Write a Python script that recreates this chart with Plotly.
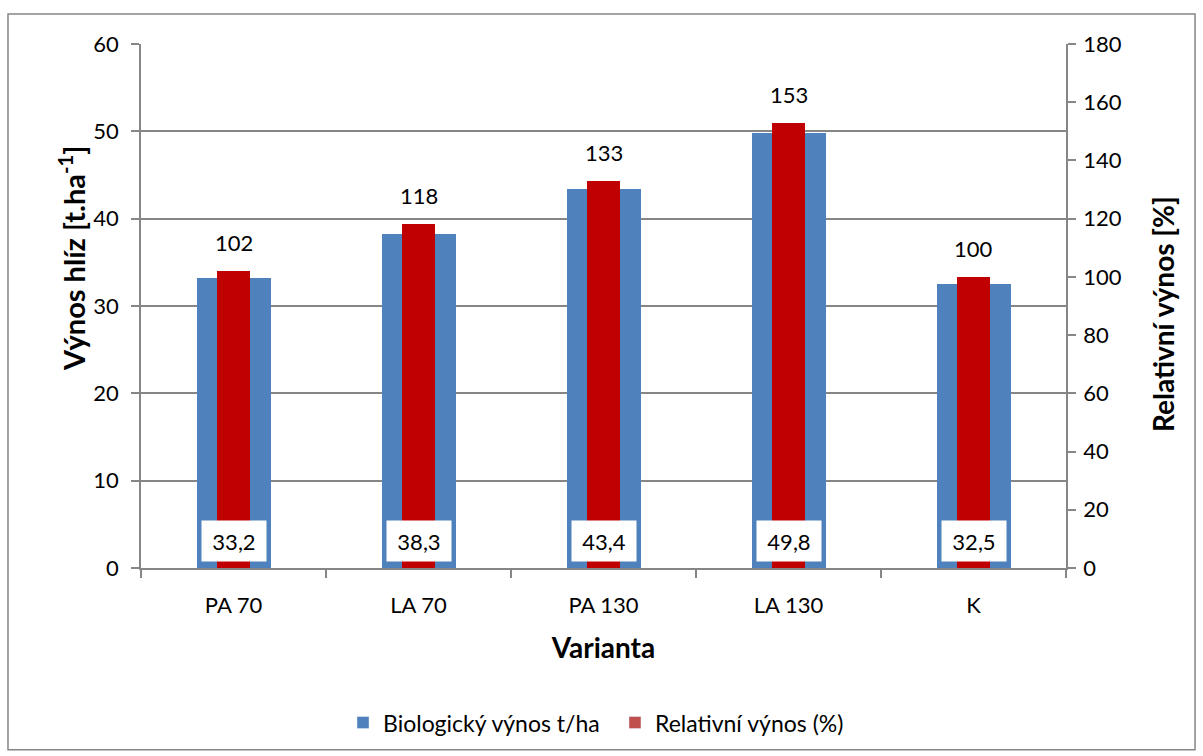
import plotly.graph_objects as go

# Varianty pokusu a výnosy
varianty = ["PA 70", "LA 70", "PA 130", "LA 130", "K"]
biologicky_vynos = [33.2, 38.3, 43.4, 49.8, 32.5]   # t/ha
relativni_vynos = [102, 118, 133, 153, 100]          # % vůči kontrole
left_ticks = [0, 10, 20, 30, 40, 50, 60]
right_ticks = [0, 20, 40, 60, 80, 100, 120, 140, 160, 180]

FONT = "Lato, 'Open Sans', sans-serif"
BLUE = "#4F81BD"
RED = "#C00000"
RED_LEGEND = "#C0504D"
GRID = "#868686"

fig = go.Figure()

fig.add_trace(go.Bar(
    x=varianty, y=biologicky_vynos, name="Biologický výnos t/ha",
    marker=dict(color=BLUE, line=dict(width=0)), width=0.4,
    yaxis="y", showlegend=False,
))
fig.add_trace(go.Bar(
    x=varianty, y=relativni_vynos, name="Relativní výnos (%)",
    marker=dict(color=RED, line=dict(width=0)), width=0.175,
    yaxis="y2", showlegend=False,
))

# legend entries (one legend box each, so their spacing can be set)
fig.add_trace(go.Bar(x=[varianty[0]], y=[None], name="Biologický výnos t/ha",
                     marker_color=BLUE, yaxis="y", legend="legend"))
fig.add_trace(go.Bar(x=[varianty[0]], y=[None], name="Relativní výnos (%)",
                     marker_color=RED_LEGEND, yaxis="y2", legend="legend2"))

annotations = []
# white value boxes at the foot of the blue bars
for v, val in zip(varianty, biologicky_vynos):
    annotations.append(dict(
        x=v, y=0, xref="x", yref="y", yanchor="bottom", yshift=6,
        text=f"{val:.1f}".replace(".", ","), showarrow=False,
        font=dict(family=FONT, size=22, color="black"),
        bgcolor="white", width=64, height=40, borderpad=0,
    ))
# values above the red bars
for v, val in zip(varianty, relativni_vynos):
    annotations.append(dict(
        x=v, y=val, xref="x", yref="y2", yanchor="bottom", yshift=13,
        text=str(val), showarrow=False,
        font=dict(family=FONT, size=22, color="black"),
    ))

# vertical axis titles
annotations.append(dict(
    x=-0.0746, y=0.5916, xref="paper", yref="paper", xanchor="center", yanchor="middle",
    text="<b>Výnos hlíz [t.ha<sup>-1</sup>]</b>", textangle=-90, showarrow=False,
    font=dict(family=FONT, size=29, color="black"),
))
annotations.append(dict(
    x=1.1049, y=0.4847, xref="paper", yref="paper", xanchor="center", yanchor="middle",
    text="<b>Relativní výnos [%]</b>", textangle=-90, showarrow=False,
    font=dict(family=FONT, size=28, color="black"),
))

legend_style = dict(orientation="h", y=-0.295, yanchor="middle", xanchor="left",
                    font=dict(family=FONT, size=23), itemwidth=30,
                    bgcolor="rgba(0,0,0,0)")

fig.update_layout(
    width=1203, height=756,
    margin=dict(l=141, r=137, t=44, b=188, autoexpand=False),
    paper_bgcolor="white", plot_bgcolor="white",
    font=dict(family=FONT, size=22, color="black"),
    barmode="overlay", bargap=0,
    annotations=annotations,
    legend=dict(x=0.2184, **legend_style),
    legend2=dict(x=0.5124, **legend_style),
    shapes=[dict(type="rect", xref="paper", yref="paper",
                 x0=-0.1438, x1=1.1395, y0=-0.347, y1=1.0573,
                 line=dict(color=GRID, width=1.5), layer="below")],
    xaxis=dict(
        type="category", showline=True, linecolor=GRID, linewidth=1.5,
        ticks="outside", tickson="boundaries", ticklen=8, tickcolor=GRID, tickwidth=1.5,
        tickfont=dict(family=FONT, size=22), ticklabelstandoff=17,
        title=dict(text="<b>Varianta</b>", font=dict(family=FONT, size=28), standoff=21),
        showgrid=False, automargin=False,
    ),
    yaxis=dict(
        range=[0, 60], tickvals=left_ticks, showline=True, linecolor=GRID, linewidth=1.5,
        ticks="outside", ticklen=8, tickcolor=GRID, tickwidth=1.5,
        showgrid=True, gridcolor=GRID, gridwidth=1.5, zeroline=False,
        tickfont=dict(family=FONT, size=22), ticklabelstandoff=8,
        automargin=False,
    ),
    yaxis2=dict(
        range=[0, 180], tickvals=right_ticks, overlaying="y", side="right",
        showline=True, linecolor=GRID, linewidth=1.5,
        ticks="outside", ticklen=8, tickcolor=GRID, tickwidth=1.5,
        showgrid=False, zeroline=False,
        tickfont=dict(family=FONT, size=22), ticklabelstandoff=3,
        automargin=False,
    ),
)

fig.write_html("out.html")
